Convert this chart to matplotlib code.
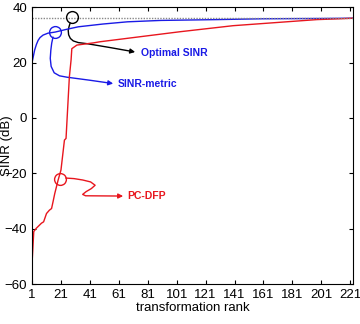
import numpy as np
import matplotlib
matplotlib.use("Agg")
import matplotlib.pyplot as plt
from matplotlib.path import Path
from matplotlib.patches import FancyArrowPatch

plt.rcParams['font.family'] = ['Liberation Sans', 'DejaVu Sans']

# Data
optimal_sinr = 36.0
sinr_rank = [1, 2, 2.8, 4, 5.2, 6.5, 8.6, 12, 17, 25, 33, 50, 67, 90, 129, 160, 200, 223]
sinr_vals = [20.0, 22.5, 24.5, 26.5, 28.0, 29.0, 29.9, 30.6, 31.0, 32.0, 32.9, 33.9, 34.7, 35.2, 35.5, 35.8, 35.9, 36.0]

pcdfp_rank = [1, 2.2, 4, 7.5, 9, 11, 13, 14.5, 15.5, 16.7, 19, 21, 23.4, 24.5, 26.8, 28, 28.5,
              32, 43.5, 48, 103, 140, 198, 214, 223]
pcdfp_vals = [-52.5, -41, -39.8, -38, -37.5, -34.5, -33.3, -32.7, -30.3, -27.3, -22.5, -18.8, -8,
              -7.4, 14.8, 21, 25, 26.3, 27.1, 27.5, 31.1, 33.3, 35.5, 35.8, 36.0]

xticks = list(range(1, 222, 20))
yticks = [-60, -40, -20, 0, 20, 40]

blue = '#1a1ae6'
red = '#e8161e'

fig = plt.figure(figsize=(3.6, 3.24), dpi=100)
ax = fig.add_axes([0.089, 0.123, 0.892, 0.855])

ax.plot(sinr_rank, sinr_vals, color=blue, lw=1.0)
ax.plot(pcdfp_rank, pcdfp_vals, color=red, lw=1.0)
ax.axhline(optimal_sinr, color='#888888', lw=1.0, ls=(0, (1, 1)))

# circles
c_blue_x = 16.7
ax.plot([c_blue_x], [np.interp(c_blue_x, sinr_rank, sinr_vals)], 'o', mfc='none', mec=blue, ms=8.5, mew=1.0)
c_red_x = 20.4
ax.plot([c_red_x], [-22.1], 'o', mfc='none', mec=red, ms=8.5, mew=1.0)
ax.plot([28.5], [optimal_sinr + 0.3], 'o', mfc='none', mec='black', ms=8.5, mew=1.0)

def curve(pts, color):
    codes = [Path.MOVETO] + [Path.LINETO] * (len(pts) - 1)
    p = FancyArrowPatch(path=Path(pts, codes), arrowstyle='-|>', mutation_scale=7,
                        color=color, lw=1.0, shrinkA=0, shrinkB=0)
    ax.add_patch(p)

curve([(27.3, 34.2), (26.6, 33.0), (26.0, 31.6), (26.3, 30.0), (27.5, 28.7), (29.5, 27.8),
       (33, 27.2), (39.1, 26.8), (55, 25.4), (72.3, 23.8)], 'black')
ax.text(76.4, 23.4, 'Optimal SINR', color=blue, fontsize=7.5, fontweight='bold', va='center', ha='left')

curve([(15.5, 29.2), (14.6, 27.0), (14.0, 24.5), (13.6, 21.5), (14.2, 18.6), (16.3, 16.3),
       (20, 15.2), (25.2, 14.7), (41.1, 13.6), (57.1, 12.4)], blue)
ax.text(60.5, 12.2, 'SINR-metric', color=blue, fontsize=7.5, fontweight='bold', va='center', ha='left')

curve([(24.3, -21.7), (30, -21.9), (36, -22.4), (41.5, -23.1), (44.6, -24.3), (42, -25.5),
       (38.4, -26.6), (36.0, -27.6), (38, -28.1), (64, -28.2)], red)
ax.text(66.7, -28.2, 'PC-DFP', color=red, fontsize=7.5, fontweight='bold', va='center', ha='left')

ax.set_xlim(1, 223)
ax.set_ylim(-60, 40)
ax.set_xticks(xticks)
ax.set_yticks(yticks)
ax.tick_params(direction='in', top=True, right=True, length=3, labelsize=9.5, width=0.8)
ax.set_xlabel('transformation rank', fontsize=9.5, labelpad=1)
ax.set_ylabel('SINR (dB)', fontsize=9.5, labelpad=-6)
for s in ax.spines.values():
    s.set_linewidth(0.8)

fig.savefig('out.png', dpi=100)
